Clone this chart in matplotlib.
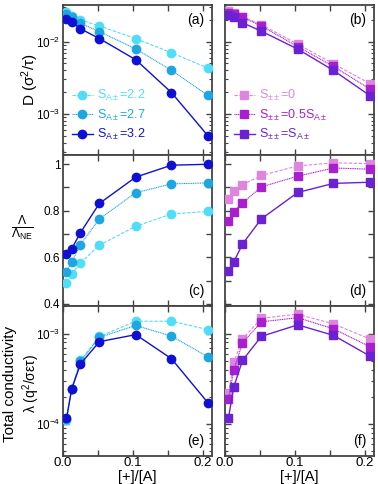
import math
import matplotlib
matplotlib.use("Agg")
import matplotlib.pyplot as plt
from matplotlib.ticker import MultipleLocator, LogLocator, NullFormatter, FuncFormatter, FixedLocator

plt.rcParams['font.family'] = ['Liberation Sans', 'DejaVu Sans']
plt.rcParams['mathtext.fontset'] = 'custom'
plt.rcParams['mathtext.rm'] = 'Liberation Sans'
plt.rcParams['mathtext.it'] = 'Liberation Sans:italic'
plt.rcParams['mathtext.bf'] = 'Liberation Sans:bold'

# ---- data ----
x = [0.005, 0.0125, 0.025, 0.052, 0.104, 0.155, 0.207]

labels_left = [r'S$_{\mathregular{A\pm}}$=2.2', r'S$_{\mathregular{A\pm}}$=2.7', r'S$_{\mathregular{A\pm}}$=3.2']
labels_right = [r'S$_{\mathregular{\pm\pm}}$=0', r'S$_{\mathregular{\pm\pm}}$=0.5S$_{\mathregular{A\pm}}$',
                r'S$_{\mathregular{\pm\pm}}$=S$_{\mathregular{A\pm}}$']

D_22 = [0.0254, 0.0228, 0.0199, 0.0164, 0.0110, 0.0070, 0.0043]
D_27 = [0.0240, 0.0221, 0.0179, 0.0137, 0.0079, 0.0040, 0.0018]
D_32 = [0.0205, 0.0185, 0.0150, 0.0110, 0.0056, 0.00197, 0.00050]

Db_0 = [0.0264, 0.0251, 0.0221, 0.0171, 0.0092, 0.00493, 0.00262]
Db_05 = [0.0251, 0.0240, 0.0217, 0.0164, 0.0085, 0.00453, 0.00221]
Db_1 = [0.0235, 0.0221, 0.0182, 0.0139, 0.00786, 0.00399, 0.00179]

L_22 = [0.490, 0.529, 0.576, 0.652, 0.733, 0.786, 0.797]
L_27 = [0.539, 0.580, 0.655, 0.765, 0.877, 0.915, 0.919]
L_32 = [0.614, 0.637, 0.706, 0.831, 0.944, 0.995, 0.999]

Ld_0 = [0.850, 0.883, 0.911, 0.951, 0.992, 1.005, 1.002]
Ld_05 = [0.756, 0.796, 0.833, 0.902, 0.948, 0.983, 0.978]
Ld_1 = [0.540, 0.580, 0.657, 0.765, 0.878, 0.917, 0.922]

C_22 = [1.11e-4, 2.46e-4, 5.06e-4, 9.3e-4, 1.37e-3, 1.37e-3, 1.11e-3]
C_27 = [1.15e-4, 2.46e-4, 4.93e-4, 9.1e-4, 1.23e-3, 9.4e-4, 5.56e-4]
C_32 = [1.16e-4, 2.46e-4, 4.62e-4, 8.15e-4, 9.75e-4, 5.29e-4, 1.73e-4]

Cf_0 = [2.20e-4, 4.81e-4, 8.73e-4, 1.48e-3, 1.64e-3, 1.28e-3, 8.73e-4]
Cf_05 = [1.91e-4, 3.96e-4, 7.89e-4, 1.35e-3, 1.50e-3, 1.13e-3, 7.18e-4]
Cf_1 = [1.18e-4, 2.57e-4, 5.06e-4, 9.33e-4, 1.25e-3, 9.57e-4, 5.66e-4]

col_left = ['#4FDDF7', '#1DA6E2', '#0F10D2']
col_right = ['#DE86DE', '#A81FD0', '#6A22D2']
ls = [(0, (3, 1.5)), (0, (1, 0.6)), '-']
lw = [0.8, 0.8, 1.0]

fig = plt.figure(figsize=(3.78, 4.84), dpi=100)
L0, W = 63 / 378, 149 / 378
R0 = 225 / 378
H = 150.3 / 484
tops = [5, 155.3, 305.6]

axes = []
for r in range(3):
    b = 1 - (tops[r] + 150.3) / 484
    axl = fig.add_axes([L0, b, W, H])
    axr = fig.add_axes([R0, b, W, H])
    axes.append((axl, axr))

spine_col = '#444444'
TS = 8.5

def style(ax, logy, showx, showy):
    for s in ax.spines.values():
        s.set_color(spine_col)
        s.set_linewidth(1.3)
    ax.set_xlim(0, 0.213)
    ax.xaxis.set_major_locator(FixedLocator([0.0, 0.1, 0.2]))
    ax.xaxis.set_minor_locator(FixedLocator([0.05, 0.15]))
    ax.xaxis.set_major_formatter(FuncFormatter(lambda v, p: '%.1f' % v))
    ax.tick_params(which='both', direction='in', top=True, right=True, color=spine_col,
                   labelsize=TS, pad=2)
    ax.tick_params(axis='x', labelsize=9.5)
    ax.tick_params(which='major', length=4, width=1)
    ax.tick_params(axis='x', which='minor', length=4, width=1)
    ax.tick_params(axis='y', which='minor', length=2.2, width=0.8)
    if not showx:
        ax.tick_params(axis='x', labelbottom=False)
    if not showy:
        ax.tick_params(axis='y', labelleft=False)
    if logy:
        ax.set_yscale('log')
        ax.yaxis.set_major_locator(LogLocator(base=10, numticks=10))
        ax.yaxis.set_minor_locator(LogLocator(base=10, subs=range(2, 10), numticks=20))
        ax.yaxis.set_minor_formatter(NullFormatter())
        ax.yaxis.set_major_formatter(FuncFormatter(
            lambda v, p: r'10$^{\mathregular{%d}}$' % round(math.log10(v))))

def plot_set(ax, series, cols, marker, ms):
    for i, ys in enumerate(series):
        ax.plot(x, ys, linestyle=ls[i], lw=lw[i], color=cols[i], marker=marker, ms=ms,
                mec=cols[i], mfc=cols[i], zorder=3 + i)

MSC, MSS = 6.0, 5.2

# row 1
ax, bx = axes[0]
plot_set(ax, [D_22, D_27, D_32], col_left, 'o', MSC)
plot_set(bx, [Db_0, Db_05, Db_1], col_right, 's', MSS)
for a in (ax, bx):
    style(a, True, False, a is ax)
    a.set_ylim(2.67e-4, 0.032)

# row 2
ax2, bx2 = axes[1]
plot_set(ax2, [L_22, L_27, L_32], col_left, 'o', MSC)
plot_set(bx2, [Ld_0, Ld_05, Ld_1], col_right, 's', MSS)
for a in (ax2, bx2):
    style(a, False, False, a is ax2)
    a.set_ylim(0.393, 1.0375)
    a.yaxis.set_major_locator(MultipleLocator(0.2))
    a.yaxis.set_minor_locator(MultipleLocator(0.1))
    a.tick_params(axis='y', which='minor', length=4, width=1)
    a.yaxis.set_major_formatter(FuncFormatter(lambda v, p: '1' if abs(v - 1) < 1e-6 else '%.1f' % v))

# row 3
ax3, bx3 = axes[2]
plot_set(ax3, [C_22, C_27, C_32], col_left, 'o', MSC)
plot_set(bx3, [Cf_0, Cf_05, Cf_1], col_right, 's', MSS)
for a in (ax3, bx3):
    style(a, True, True, a is ax3)
    a.set_ylim(4.46e-5, 2.04e-3)
    a.tick_params(axis='x', pad=1)

# x labels in figure coordinates
for cx in ((63 + 212) / 2, (225 + 374) / 2):
    fig.text(cx / 378, 1 - 476.5 / 484, '[+]/[A]', fontsize=10.5, ha='center', va='center')

# y labels placed in figure coordinates
fig.text(30 / 378, 1 - 80 / 484, r'D ($\mathregular{\sigma^2/\tau}$)', fontsize=11,
         rotation=90, ha='center', va='center')
fig.text(22 / 378, 1 - 228 / 484, r'$\frac{\Lambda}{\Lambda_{\mathregular{NE}}}$', fontsize=12.5,
         ha='center', va='center')
fig.text(10 / 378, 1 - 384 / 484, 'Total conductivity', fontsize=11,
         rotation=90, ha='center', va='center')
fig.text(31 / 378, 1 - 384 / 484, r'$\mathregular{\lambda}$ ($\mathregular{q^2/\sigma\epsilon\tau}$)',
         fontsize=10, rotation=90, ha='center', va='center')

# panel labels
for a, t, pos in [(ax, '(a)', 'top'), (bx, '(b)', 'top'), (ax2, '(c)', 'bot'), (bx2, '(d)', 'bot'),
                  (ax3, '(e)', 'bot'), (bx3, '(f)', 'bot')]:
    yy = 0.9 if pos == 'top' else 0.1
    a.text(0.95, yy, t, transform=a.transAxes, ha='right', va='center', fontsize=10)

# legends
for a, cols, labs in [(ax, col_left, labels_left), (bx, col_right, labels_right)]:
    hs = [a.lines[i] for i in range(3)]
    leg = a.legend(hs, labs, loc='lower left', bbox_to_anchor=(0.0, 0.03), frameon=False,
                   fontsize=9, handlelength=1.7, handletextpad=0.3, labelspacing=0.35,
                   borderaxespad=0.3)
    for txt, c in zip(leg.get_texts(), cols):
        txt.set_color(c)

fig.savefig('out.png', dpi=100)
